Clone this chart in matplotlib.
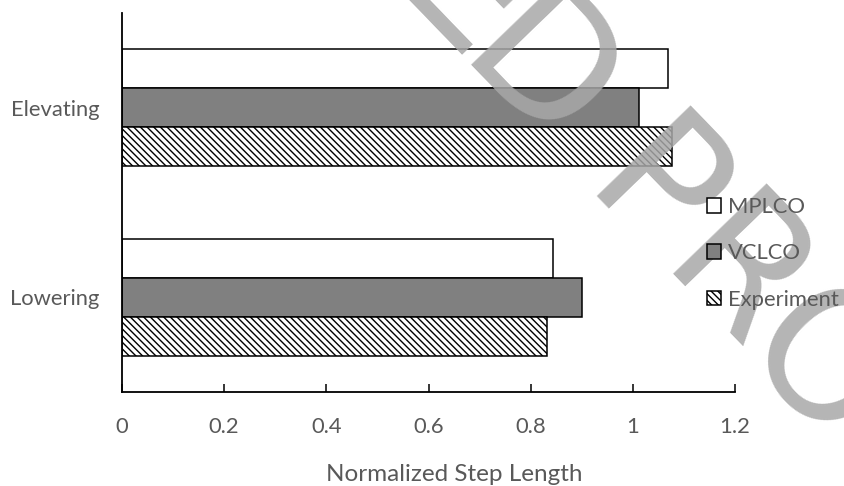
import numpy as np
import matplotlib
matplotlib.use("Agg")
import matplotlib.pyplot as plt

# --- data ---
categories = ["Lowering", "Elevating"]          # bottom to top
series = ["MPLCO", "VCLCO", "Experiment"]
mplco = [0.844, 1.068]
vclco = [0.900, 1.012]
experiment = [0.831, 1.076]
xticks = [0, 0.2, 0.4, 0.6, 0.8, 1, 1.2]
xtick_labels = ["0", "0.2", "0.4", "0.6", "0.8", "1", "1.2"]

TXT = "#595959"
FS = 15.8
plt.rcParams["font.family"] = ["Lato", "DejaVu Sans"]
plt.rcParams["hatch.linewidth"] = 1.0

W, H = 844, 486
fig = plt.figure(figsize=(W / 100, H / 100), dpi=100)
ax = fig.add_axes([122 / W, 94 / H, 613 / W, 379 / H])

y = np.arange(len(categories))
h = 0.206
edge = dict(edgecolor="black", linewidth=1.1)
b1 = ax.barh(y + h, mplco, height=h, color="white", label=series[0], **edge)
b2 = ax.barh(y, vclco, height=h, color="#808080", label=series[1], **edge)
b3 = ax.barh(y - h, experiment, height=h, color="white", hatch="\\\\\\\\\\",
             label=series[2], **edge)

ax.set_xlim(0, 1.2)
ax.set_ylim(-0.5, 1.5)
ax.set_xticks(xticks)
ax.set_xticklabels(xtick_labels)
ax.set_yticks(y)
ax.set_yticklabels(categories)

for s in ["top", "right"]:
    ax.spines[s].set_visible(False)
for s in ["left", "bottom"]:
    ax.spines[s].set_linewidth(1.3)
    ax.spines[s].set_color("black")

ax.tick_params(axis="x", direction="in", length=6, width=1.1, color="black",
               pad=18, labelsize=FS, labelcolor=TXT)
ax.tick_params(axis="y", length=0, pad=16, labelsize=FS, labelcolor=TXT)

ax.set_xlabel("Normalized Step Length", fontsize=17.5, color=TXT)
ax.xaxis.set_label_coords((454 - 122) / 613, -0.19)

# legend on figure level so it sits above the stamp
fig.legend(handles=[b1, b2, b3], loc="upper left",
           bbox_to_anchor=(707 / W, 1 - 197 / H),
           frameon=False, fontsize=FS, labelcolor=TXT,
           handlelength=0.65, handleheight=0.65, handletextpad=0.3,
           labelspacing=1.2, borderpad=0, borderaxespad=0).set_zorder(6)

# light diagonal stamp across the figure
ang = np.deg2rad(46)
u = np.array([np.cos(ang), np.sin(ang)])      # along baseline, screen coords (y down)
v = np.array([np.sin(ang), -np.cos(ang)])     # letter "up", screen coords
start = np.array([420.0, 13.0]) - 28 * u - 12 * v
letters = ["E", "D", "P", "R", "O", "O", "F"]
offsets = [0, 97, 278, 387, 503, 650, 790]
for ch, s in zip(letters, offsets):
    px, py = start + (s - 9.5) * u
    fig.text(px / W, 1 - py / H, ch, fontsize=128, family="DejaVu Sans",
             color="#a8a8a8", alpha=0.85, rotation=-46, rotation_mode="anchor",
             ha="left", va="baseline", zorder=5)

fig.savefig("out.png", dpi=100)
